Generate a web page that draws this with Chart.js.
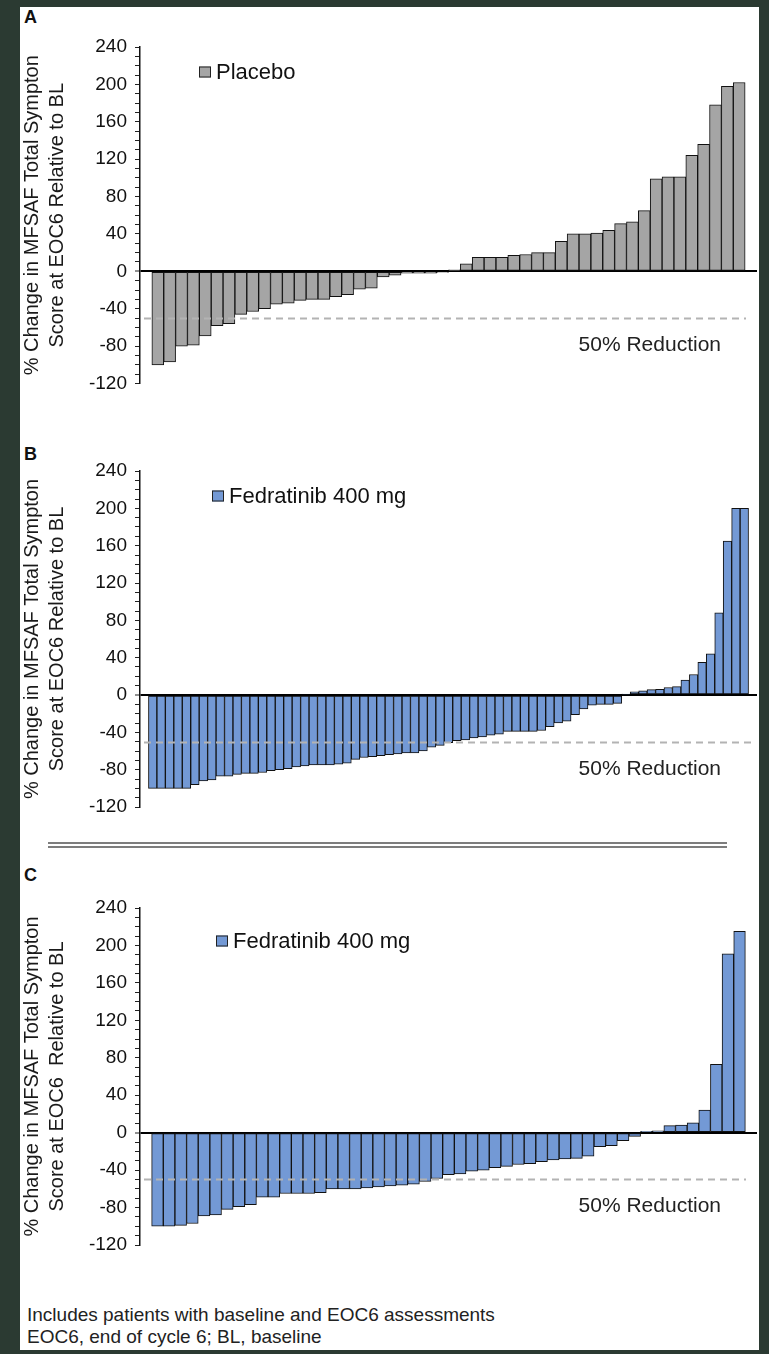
<!DOCTYPE html>
<html>
<head>
<meta charset="utf-8">
<title>MFSAF Total Symptom Score waterfall</title>
<script src="https://cdn.jsdelivr.net/npm/chart.js@4.4.1/dist/chart.umd.min.js"></script>
<style>
  html, body { margin: 0; padding: 0; background: #2b3a32; }
  body { width: 769px; height: 1354px; position: relative; overflow: hidden;
         font-family: "Liberation Sans", Arial, sans-serif; }
  #sheet { position: absolute; left: 20px; top: 7px; width: 739px; height: 1343px; background: #fff; }
  .letter { position: absolute; left: 4px; font-weight: bold; font-size: 18px; line-height: 18px; color: #111; }
  .panel { position: absolute; left: 0; }
  .rule { position: absolute; left: 28px; width: 679px; height: 2px; background: #7d7d7d; }
  #note { position: absolute; left: 7px; top: 1297px; font-size: 19px; line-height: 22px; color: #222; }
</style>
</head>
<body>
<div id="sheet">
  <div class="letter" style="top:1px">A</div>
  <canvas id="chartA" class="panel" width="739" height="420" style="top:0px"></canvas>

  <div class="letter" style="top:438px">B</div>
  <canvas id="chartB" class="panel" width="739" height="400" style="top:424px"></canvas>

  <div class="rule" style="top:835px"></div>
  <div class="rule" style="top:839px"></div>

  <div class="letter" style="top:859px">C</div>
  <canvas id="chartC" class="panel" width="739" height="400" style="top:861px"></canvas>

  <div id="note">Includes patients with baseline and EOC6 assessments<br>EOC6, end of cycle 6; BL, baseline</div>
</div>

<script>
// % change in MFSAF Total Symptom Score at EOC6 relative to baseline, one value per patient (sorted)
const placeboChange = [
  -100, -97, -80, -79, -69, -58, -56, -46, -43, -40,
  -35, -34, -31, -30, -30, -27, -25, -19, -18, -6,
  -4, -2, -2, -2, -1, 1.5, 8, 15, 15, 15,
  17, 18, 20, 20, 32, 40, 40, 41, 44, 51,
  53, 65, 99, 101, 101, 124, 136, 178, 198, 202
];
const fedratinibChangeB = [
  -100, -100, -100, -100, -100, -96, -92, -91, -87, -87,
  -85, -84, -84, -83, -81, -80, -79, -77, -76, -75,
  -75, -75, -74, -73, -69, -67, -66, -65, -64, -63,
  -62, -62, -60, -56, -54, -51, -49, -48, -46, -45,
  -43, -42, -39, -39, -39, -39, -38, -34, -30, -28,
  -21, -15, -11, -10, -10, -9, 1, 3.5, 4.6, 5.7,
  6, 8, 9, 16, 22, 35, 44, 88, 165, 200,
  200
];
const fedratinibChangeC = [
  -100, -100, -99, -97, -89, -88, -82, -79, -77, -69,
  -69, -65, -65, -65, -64, -60, -60, -60, -59, -58,
  -57, -56, -55, -52, -49, -45, -44, -41, -40, -37.5,
  -36, -34, -33, -31, -29, -28, -27.5, -25, -15, -14,
  -8.5, -4, 1.4, 2, 7.5, 8, 10.5, 24, 73, 191,
  215
];

// Y axis range and labelled ticks
const yMin = -120;
const yMax = 240;
const yMinorStep = 10;
const yLabelStep = 40;

const yTitleLines = ['% Change in MFSAF Total Sympton', 'Score at EOC6 Relative to BL'];
const yTitleLinesC = ['% Change in MFSAF Total Sympton', 'Score at EOC6  Relative to BL'];
const reductionLevel = -50;
const reductionLabel = '50% Reduction';

const FONT = '"Liberation Sans", Arial, sans-serif';

// Draws the dashed 50% reduction line, its caption and the in-plot legend
const panelDecor = {
  id: 'panelDecor',
  afterDatasetsDraw(chart, args, opts) {
    const { ctx, chartArea: a, scales: { y } } = chart;
    const yRef = Math.round(y.getPixelForValue(reductionLevel)) + 0.5;
    ctx.save();
    ctx.strokeStyle = '#b3b3b3';
    ctx.lineWidth = 2;
    ctx.setLineDash([7, 5]);
    ctx.beginPath();
    ctx.moveTo(a.left + 4, yRef);
    ctx.lineTo(a.right - opts.lineInset, yRef);
    ctx.stroke();
    ctx.setLineDash([]);

    ctx.font = '21px ' + FONT;
    ctx.fillStyle = '#222';
    ctx.textAlign = 'right';
    ctx.textBaseline = 'middle';
    ctx.fillText(reductionLabel, a.right - 36, yRef + 27);

    // legend swatch and label
    const bx = a.left + opts.legendX;
    const by = a.top + opts.legendY;
    ctx.fillStyle = opts.swatch;
    ctx.fillRect(bx, by - 5.5, 12, 11);
    ctx.strokeStyle = '#222';
    ctx.lineWidth = 1;
    ctx.strokeRect(bx + 0.5, by - 5, 11, 10);
    ctx.font = '22px ' + FONT;
    ctx.fillStyle = '#111';
    ctx.textAlign = 'left';
    ctx.fillText(opts.legendText, bx + 17, by + 1);
    ctx.restore();
  }
};

function waterfall(canvasId, values, fill, legendText, titleLines, decor, padBottom) {
  const n = values.length;
  return new Chart(document.getElementById(canvasId), {
    type: 'bar',
    data: {
      datasets: [{
        label: legendText,
        data: values.map((v, i) => ({ x: i + 1, y: v })),
        backgroundColor: fill,
        borderColor: '#111',
        borderWidth: 1,
        borderSkipped: false,
        barPercentage: 1,
        categoryPercentage: 1
      }]
    },
    options: {
      responsive: false,
      animation: false,
      devicePixelRatio: 1,
      layout: { padding: { top: 40, bottom: padBottom, left: 0, right: 2 } },
      plugins: {
        legend: { display: false },
        tooltip: { enabled: false },
        panelDecor: Object.assign({ legendText: legendText, swatch: fill }, decor)
      },
      scales: {
        x: {
          type: 'linear',
          display: false,
          offset: false,
          min: -0.5,
          max: n + 1.5
        },
        y: {
          min: yMin,
          max: yMax,
          afterFit(scale) { scale.width = 120; },
          border: { display: true, color: '#111', width: 1.5 },
          grid: {
            drawOnChartArea: true,
            color: c => (c.tick && c.tick.value === 0) ? '#000' : 'rgba(0,0,0,0)',
            lineWidth: c => (c.tick && c.tick.value === 0) ? 2 : 1,
            tickColor: '#222',
            tickLength: 5,
            tickWidth: 1
          },
          ticks: {
            stepSize: yMinorStep,
            autoSkip: false,
            padding: 8,
            color: '#111',
            font: { family: FONT, size: 19 },
            callback: v => (v % yLabelStep === 0) ? String(v) : ''
          },
          title: {
            display: true,
            text: titleLines,
            color: '#1a1a1a',
            font: { family: FONT, size: 20, lineHeight: 1.25 },
            padding: 0
          }
        }
      }
    },
    plugins: [panelDecor]
  });
}

waterfall('chartA', placeboChange, '#a5a5a5', 'Placebo', yTitleLines,
  { legendX: 59, legendY: 25, lineInset: 11 }, 43.5);
waterfall('chartB', fedratinibChangeB, '#7399d5', 'Fedratinib 400 mg', yTitleLines,
  { legendX: 72, legendY: 25, lineInset: 4 }, 24);
waterfall('chartC', fedratinibChangeC, '#7399d5', 'Fedratinib 400 mg', yTitleLinesC,
  { legendX: 76, legendY: 33, lineInset: 11 }, 23);
</script>
</body>
</html>
